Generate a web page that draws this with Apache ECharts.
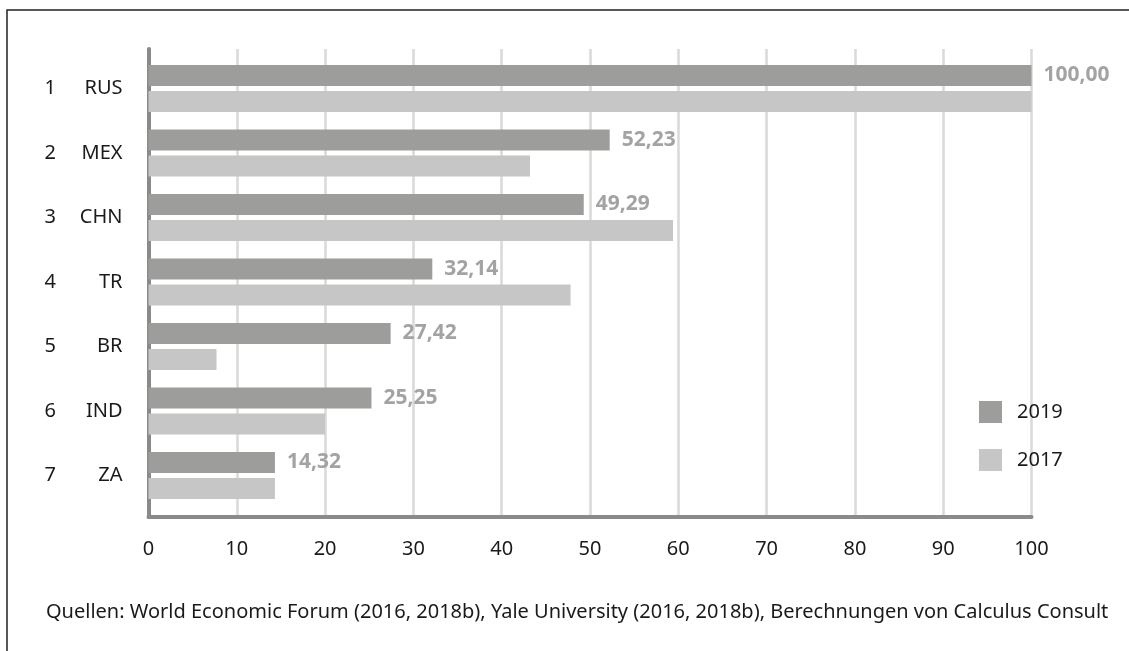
<!DOCTYPE html>
<html>
<head>
<meta charset="utf-8">
<script src="https://cdn.jsdelivr.net/npm/echarts@6/dist/echarts.min.js"></script>
<style>
  html, body { margin: 0; padding: 0; background: #fff; }
  #chart { width: 1129px; height: 651px; }
</style>
</head>
<body>
<div id="chart"></div>
<script>
// Rankings and country codes
const ranks = ['1', '2', '3', '4', '5', '6', '7'];
const countries = ['RUS', 'MEX', 'CHN', 'TR', 'BR', 'IND', 'ZA'];
// Index values (RUS = 100)
const values2019 = [100.00, 52.23, 49.29, 32.14, 27.42, 25.25, 14.32];
const values2017 = [100.00, 43.2, 59.4, 47.8, 7.7, 20.0, 14.32];
const xTicks = [0, 10, 20, 30, 40, 50, 60, 70, 80, 90, 100];
const sourceNote = 'Quellen: World Economic Forum (2016, 2018b), Yale University (2016, 2018b), Berechnungen von Calculus Consult';

const FONT = '"Noto Sans", "Open Sans", sans-serif';
const C2019 = '#9d9d9b';
const C2017 = '#c6c6c6';

const chart = echarts.init(document.getElementById('chart'), null, { renderer: 'canvas' });

const fmt = v => v.toFixed(2).replace('.', ',');

chart.setOption({
  animation: false,
  backgroundColor: '#ffffff',
  textStyle: { fontFamily: FONT },
  grid: [
    // frame grid: axis lines and vertical gridlines
    { left: 148.5, right: 97.5, top: 49, height: 468 },
    // bar grid
    { left: 148.5, right: 97.5, top: 56.25, height: 451.5 }
  ],
  xAxis: [
    {
      gridIndex: 0, type: 'value', min: xTicks[0], max: xTicks[xTicks.length - 1], interval: 10,
      axisLine: { show: true, lineStyle: { color: '#8a8a8a', width: 4 } },
      axisTick: { show: false },
      axisLabel: { fontSize: 20, color: '#1a1a1a', margin: 22, fontFamily: FONT },
      splitLine: { show: true, lineStyle: { color: '#d9d9d9', width: 2.5 } }
    },
    { gridIndex: 1, type: 'value', min: 0, max: 100, show: false }
  ],
  yAxis: [
    {
      gridIndex: 0, type: 'value', min: 0, max: 1,
      axisLine: { show: true, lineStyle: { color: '#8a8a8a', width: 4 } },
      axisTick: { show: false }, axisLabel: { show: false }, splitLine: { show: false }
    },
    {
      gridIndex: 1, type: 'category', inverse: true, data: countries,
      axisLine: { show: false }, axisTick: { show: false }, splitLine: { show: false },
      axisLabel: {
        margin: 26,
        formatter: (val, idx) => '{n|' + ranks[idx] + '}{c|' + val + '}',
        rich: {
          n: { fontSize: 20, color: '#1a1a1a', width: 36, align: 'left', fontFamily: FONT },
          c: { fontSize: 20, color: '#1a1a1a', width: 42, align: 'right', fontFamily: FONT }
        }
      }
    }
  ],
  legend: {
    orient: 'vertical', left: 974, top: 396,
    itemWidth: 23, itemHeight: 22, itemGap: 26,
    icon: 'rect',
    textStyle: { fontSize: 20, color: '#1a1a1a', fontFamily: FONT, padding: [0, 0, 0, 10] },
    data: ['2019', '2017']
  },
  series: [
    {
      name: '2019', type: 'bar', xAxisIndex: 1, yAxisIndex: 1,
      data: values2019, barWidth: 21, barGap: '24%',
      itemStyle: { color: C2019 },
      label: {
        show: true, position: 'right', distance: 12,
        formatter: p => fmt(p.value),
        color: '#a3a3a3', fontWeight: 'bold', fontSize: 21, fontFamily: FONT
      }
    },
    {
      name: '2017', type: 'bar', xAxisIndex: 1, yAxisIndex: 1,
      data: values2017, barWidth: 21, barGap: '24%',
      itemStyle: { color: C2017 }
    }
  ],
  graphic: [
    {
      type: 'rect', silent: true,
      shape: { x: 7, y: 10, width: 1300, height: 800 },
      style: { fill: null, stroke: '#222', lineWidth: 1.5 }
    },
    {
      type: 'text', x: 46, y: 612,
      style: { text: sourceNote, fontSize: 20, fill: '#1a1a1a', fontFamily: FONT, verticalAlign: 'middle' }
    }
  ]
});
</script>
</body>
</html>
